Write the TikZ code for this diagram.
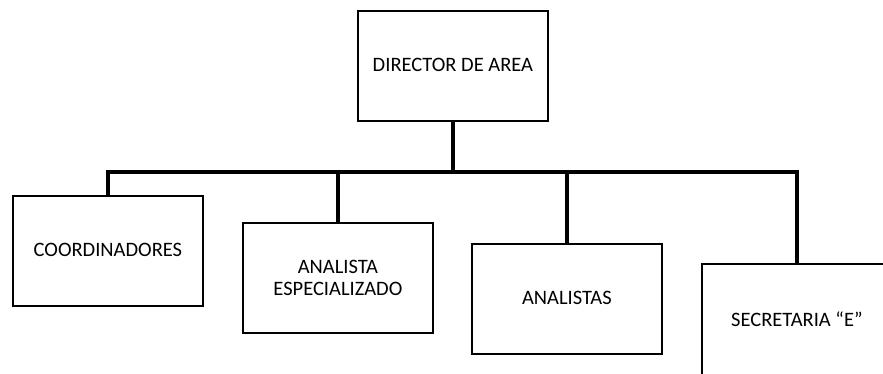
\documentclass[tikz,border=0pt]{standalone}
\usepackage{fontspec}
\setmainfont{Carlito}
\begin{document}
\begin{tikzpicture}[x=1pt,y=-1pt,
  box/.style={draw=black, line width=1.8pt, fill=white, minimum width=190pt, minimum height=110pt,
    inner sep=0pt, align=center, font=\fontsize{20.5}{22}\selectfont, anchor=north west},
  conn/.style={line width=4pt, line join=miter}]
\useasboundingbox (0,0) rectangle (883,373);
\clip (0,0) rectangle (883,373);
\node[box] (dir) at (357,10) {\raisebox{3pt}{DIRECTOR DE AREA}};
\node[box] (c1) at (12,195) {\raisebox{3pt}{COORDINADORES}};
\node[box] (c2) at (242,222) {ANALISTA\\ESPECIALIZADO};
\node[box] (c3) at (471,243) {\raisebox{3pt}{ANALISTAS}};
\node[box, minimum height=116pt] (c4) at (701,263) {\raisebox{6pt}{SECRETARIA “E”}};
\coordinate (bus) at (0,172);
\draw[conn] (dir.south) -- (dir.south |- bus);
\draw[conn] (c1.north) -- (c1.north |- bus) -- (c4.north |- bus) -- (c4.north);
\draw[conn] (c2.north) -- (c2.north |- bus);
\draw[conn] (c3.north) -- (c3.north |- bus);
\end{tikzpicture}
\end{document}
